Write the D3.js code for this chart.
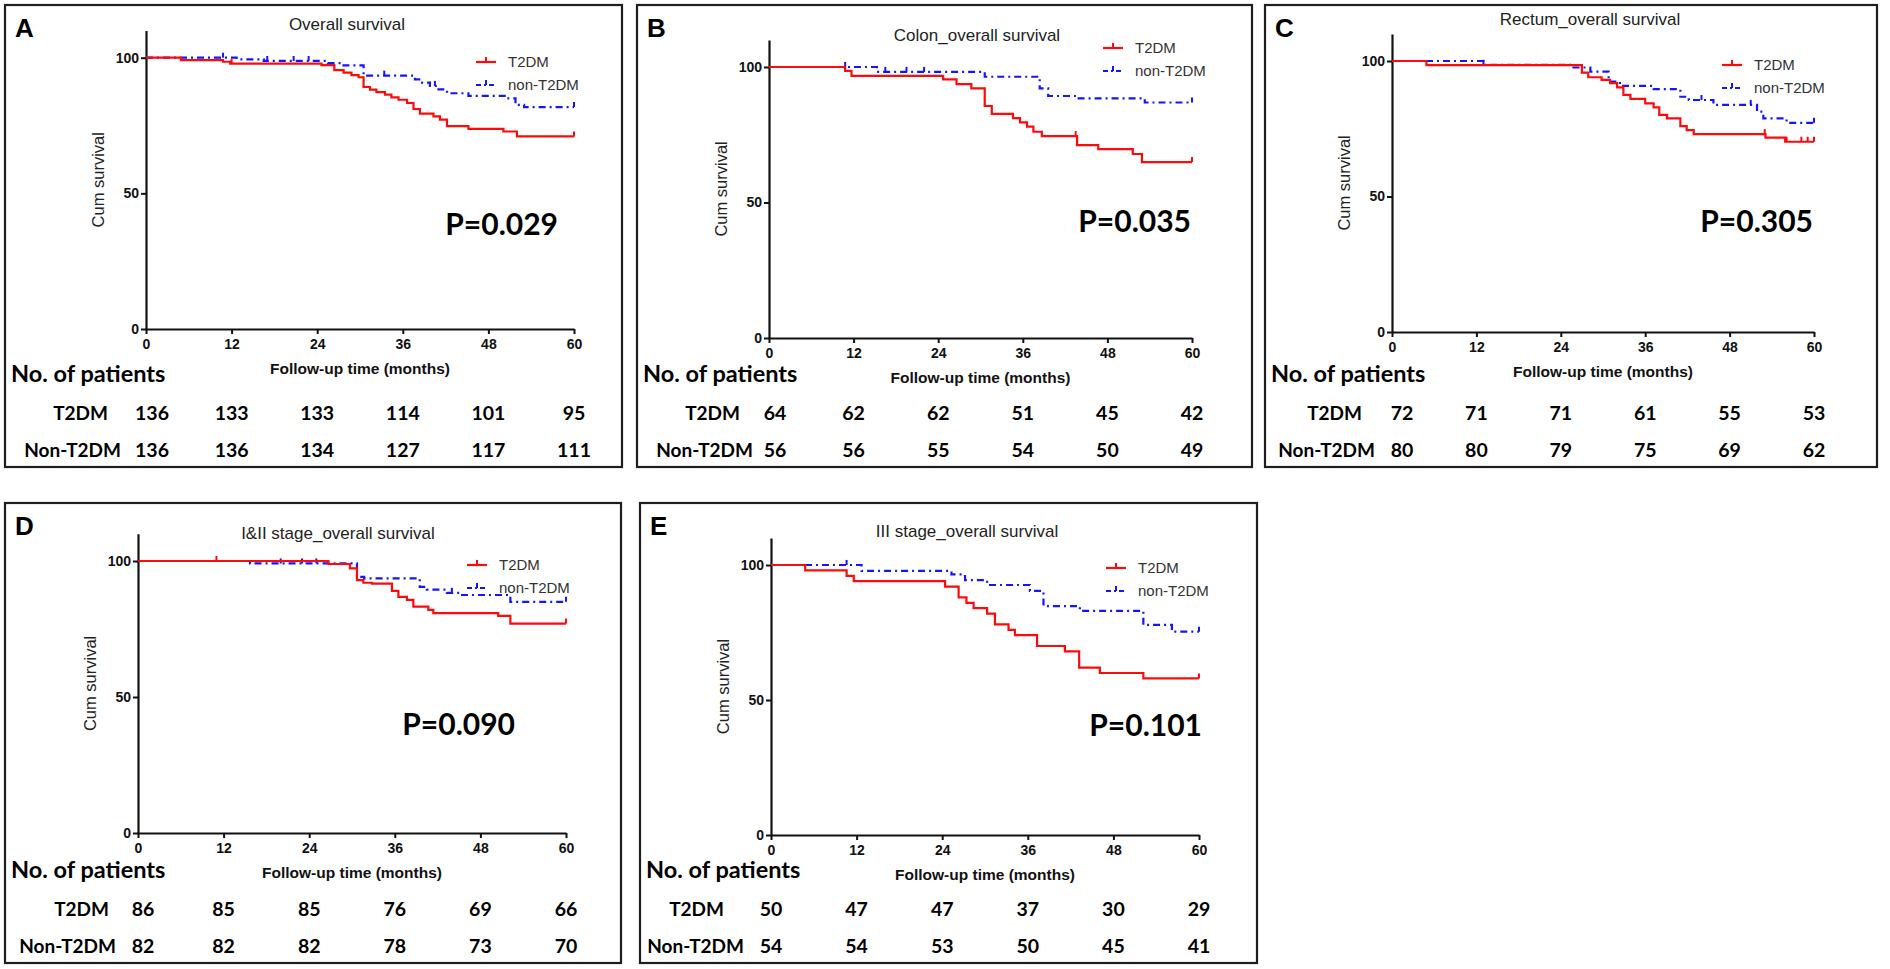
<!DOCTYPE html>
<html>
<head>
<meta charset="utf-8">
<script src="https://cdn.jsdelivr.net/npm/d3@7"></script>
<style>
  body { margin: 0; background: #fff; }
  svg { display: block; }
</style>
</head>
<body>
<div id="wrapper"></div>
<script>
// ---- data ----
const months = [0, 12, 24, 36, 48, 60]
const yTicks = [0, 50, 100]
const panelIds = ["A", "B", "C", "D", "E"]
const titles = [
  "Overall survival",
  "Colon_overall survival",
  "Rectum_overall survival",
  "I&II stage_overall survival",
  "III stage_overall survival",
]
const pValues = ["0.029", "0.035", "0.305", "0.090", "0.101"]
const groupNames = ["T2DM", "non-T2DM"]
const rowNames = ["T2DM", "Non-T2DM"]

// patients at risk at 0,12,24,36,48,60 months
const riskT2dm = [
  [136, 133, 133, 114, 101, 95],
  [64, 62, 62, 51, 45, 42],
  [72, 71, 71, 61, 55, 53],
  [86, 85, 85, 76, 69, 66],
  [50, 47, 47, 37, 30, 29],
]
const riskNon = [
  [136, 136, 134, 127, 117, 111],
  [56, 56, 55, 54, 50, 49],
  [80, 80, 79, 75, 69, 62],
  [82, 82, 82, 78, 73, 70],
  [54, 54, 53, 50, 45, 41],
]

// Kaplan-Meier steps: [month, cum survival %]
const t2dmA = [[0, 100], [4.9, 99.1], [10.8, 98.5], [11.8, 97.8], [24.6, 97.3], [26.4, 95.4], [27.7, 94.5], [28.8, 93.6], [29.8, 92.8], [30.5, 89.2], [31.4, 88.2], [32.3, 87.3], [33.5, 86.4], [34.4, 85.4], [35.4, 84.5], [36.6, 83.3], [37.5, 81.1], [38.4, 79.4], [40.3, 78.4], [41.2, 77.2], [42.2, 74.8], [45.2, 73.8], [50.1, 72.8], [52, 71]]
const nonA = [[0, 100], [12.7, 99.4], [16.5, 98.8], [25.5, 98], [27.4, 97.2], [30.5, 93.4], [37.7, 92], [38.7, 90.8], [39.8, 89.6], [41, 88.3], [42.2, 86.9], [45.2, 85.9], [50.6, 85], [51.8, 82.6], [53, 81.8]]
const t2dmB = [[0, 100], [10.8, 98.6], [11.7, 96.7], [24.7, 95.4], [26.6, 93.7], [28.7, 92.1], [30.6, 85.6], [31.6, 82.7], [34.6, 81.1], [35.6, 79.6], [36.6, 78], [37.5, 76.1], [38.7, 74.5], [43.7, 71.2], [46.7, 69.7], [51.6, 67.9], [52.9, 64.9]]
const nonB = [[0, 100], [15.3, 98.2], [30.6, 96.4], [38.4, 92.1], [39.6, 89.3], [43.7, 88.4], [53.3, 86.9]]
const t2dmC = [[0, 100], [4.9, 98.5], [27, 95.7], [27.9, 94], [29.8, 93], [31, 91.8], [32, 90.3], [32.9, 87.5], [33.9, 86], [36, 84.4], [37.2, 82.9], [38, 80.1], [39.1, 78.8], [41, 76], [41.9, 74.5], [42.9, 73], [53.1, 71.7], [55.9, 70.2]]
const nonC = [[0, 100], [13, 98.6], [25.8, 97.6], [28.2, 96.1], [30.8, 92.4], [32.4, 90.8], [37.2, 89.6], [41, 86.8], [42.2, 85.6], [45.7, 83.8], [51.9, 81.3], [52.8, 78.8], [56.1, 77.2]]
const t2dmD = [[0, 100], [26.7, 98.9], [29.7, 97.3], [30.7, 93], [31.6, 92], [32.8, 91.7], [35.6, 89], [36.5, 86.8], [37.7, 85.7], [38.6, 83.2], [40.7, 82], [41.4, 80.8], [50.5, 79.8], [52.2, 77]]
const nonD = [[0, 100], [15.7, 99.1], [30.7, 94.2], [31.7, 93.6], [39.5, 90.5], [40.5, 89.5], [43.3, 88.3], [45.2, 87.5], [52.2, 85]]
const t2dmE = [[0, 100], [4.8, 98], [10.6, 96], [11.6, 94], [24.4, 92], [26.3, 88], [27.4, 86], [28.4, 84], [30.3, 82], [31.4, 78], [33.3, 76], [34.2, 74], [37.3, 70], [41.2, 68], [43.2, 62], [46.1, 60], [52.2, 58]]
const nonE = [[0, 100], [12.7, 97.8], [25.3, 96.5], [27.2, 94.4], [30.3, 92.6], [36.3, 90.4], [38.2, 84.8], [43.3, 83], [52.2, 77.8], [56.2, 75.3]]

// censoring marks (months)
const censorT2dm = [[12, 60], [43.5, 60], [53, 56.1, 58.2, 59.1, 60], [11, 60], [60]]
const censorNon = [[10.8, 17, 20.7, 22.8, 33.4, 40.5, 60], [10.8, 16.5, 19.5, 22, 60], [13, 44, 51, 60], [20, 23, 25, 44, 60], [10.6, 60]]

const t2dmSeries = [t2dmA, t2dmB, t2dmC, t2dmD, t2dmE]
const nonSeries = [nonA, nonB, nonC, nonD, nonE]

// ---- layout (pixels) ----
const layout = [
  { box: [5, 5, 617, 462], x0: 146, w: 428, y0: 329, k: 2.713, titleDx: 201, titleY: 30, legX: 476, legY: 62, pX: 558, pY: 235, lab1: 108, lab2: 121, firstDx: 6 },
  { box: [637, 5, 615, 462], x0: 769, w: 423, y0: 338, k: 2.71, titleDx: 208, titleY: 41, legX: 1103, legY: 48, pX: 1191, pY: 232, lab1: 740, lab2: 753, firstDx: 6 },
  { box: [1265, 5, 612, 462], x0: 1392, w: 422, y0: 332, k: 2.71, titleDx: 198, titleY: 25, legX: 1722, legY: 65, pX: 1813, pY: 232, lab1: 1362, lab2: 1375, firstDx: 10 },
  { box: [5, 503, 616, 460], x0: 138, w: 428, y0: 833, k: 2.72, titleDx: 200, titleY: 539, legX: 467, legY: 565, pX: 515, pY: 735, lab1: 109, lab2: 116, firstDx: 5 },
  { box: [640, 503, 617, 460], x0: 771, w: 428, y0: 835, k: 2.7, titleDx: 196, titleY: 537, legX: 1106, legY: 568, pX: 1202, pY: 736, lab1: 724, lab2: 744, firstDx: 0 },
]

const RED = "#ff0a0a"
const BLUE = "#1414ff"
const BLUE_DASH = "7,4,2,4"
const ARIAL = "'Liberation Sans', Arial, sans-serif"
const CALIBRI = "Lato, 'Open Sans', sans-serif"

const wrapper = d3.select("#wrapper")
  .append("svg")
  .attr("width", 1890)
  .attr("height", 969)

wrapper.append("rect").attr("width", 1890).attr("height", 969).attr("fill", "#fff")

function survAt(series, t) {
  let s = 100
  series.forEach(d => { if (d[0] <= t) s = d[1] })
  return s
}

panelIds.forEach((id, i) => {
  const L = layout[i]
  const [bx, by, bw, bh] = L.box
  const g = wrapper.append("g").attr("class", "panel")

  // frame
  g.append("rect")
    .attr("x", bx).attr("y", by)
    .attr("width", bw).attr("height", bh)
    .attr("fill", "none")
    .attr("stroke", "#1e1e1e")
    .attr("stroke-width", 2.2)

  g.append("text")
    .text(id)
    .attr("x", bx + 10).attr("y", by + 32)
    .style("font-family", ARIAL).style("font-weight", "bold")
    .style("font-size", "26px").attr("fill", "#000")

  const xScale = d3.scaleLinear().domain([0, 60]).range([L.x0, L.x0 + L.w])
  const yScale = d3.scaleLinear().domain([0, 110]).range([L.y0, L.y0 - 110 * L.k])

  // title
  g.append("text")
    .text(titles[i])
    .attr("x", L.x0 + L.titleDx).attr("y", L.titleY)
    .attr("text-anchor", "middle")
    .style("font-family", ARIAL).style("font-size", "17px")
    .attr("fill", "#222")

  // axes
  const xAxis = g.append("g")
    .attr("transform", `translate(0,${L.y0})`)
    .call(d3.axisBottom(xScale).tickValues(months).tickSize(5).tickSizeOuter(0).tickPadding(5))
  const yAxis = g.append("g")
    .attr("transform", `translate(${L.x0},0)`)
    .call(d3.axisLeft(yScale).tickValues(yTicks).tickSize(5).tickSizeOuter(0).tickPadding(2))
  ;[xAxis, yAxis].forEach(ax => {
    ax.select(".domain").attr("stroke", "#111").attr("stroke-width", 2.2)
    ax.selectAll(".tick line").attr("stroke", "#111").attr("stroke-width", 2)
    ax.selectAll(".tick text")
      .style("font-family", ARIAL).style("font-weight", "bold")
      .style("font-size", "14px").attr("fill", "#111")
  })

  g.append("text")
    .text("Follow-up time (months)")
    .attr("x", L.x0 + L.w / 2).attr("y", L.y0 + 45)
    .attr("text-anchor", "middle")
    .style("font-family", ARIAL).style("font-weight", "bold")
    .style("font-size", "15.5px").attr("fill", "#111")

  g.append("text")
    .text("Cum survival")
    .attr("transform", `translate(${L.x0 - 48},${yScale(55)}) rotate(-90)`)
    .attr("text-anchor", "middle")
    .attr("dy", "0.35em")
    .style("font-family", ARIAL).style("font-size", "16.5px")
    .attr("fill", "#222")

  // curves
  const lineGen = d3.line()
    .x(d => xScale(d[0]))
    .y(d => yScale(d[1]))
    .curve(d3.curveStepAfter)

  const groups = [
    { series: t2dmSeries[i], censor: censorT2dm[i], color: RED, dash: null },
    { series: nonSeries[i], censor: censorNon[i], color: BLUE, dash: BLUE_DASH },
  ]
  // draw blue first so red sits on top like the original
  groups.slice().reverse().forEach(grp => {
    const pts = grp.series.concat([[60, grp.series[grp.series.length - 1][1]]])
    g.append("path")
      .datum(pts)
      .attr("d", lineGen)
      .attr("fill", "none")
      .attr("stroke", grp.color)
      .attr("stroke-width", 2.2)
      .attr("stroke-dasharray", grp.dash)
    g.selectAll(null)
      .data(grp.censor)
      .enter()
      .append("line")
      .attr("x1", d => xScale(d)).attr("x2", d => xScale(d))
      .attr("y1", d => yScale(survAt(grp.series, d)))
      .attr("y2", d => yScale(survAt(grp.series, d)) - 5)
      .attr("stroke", grp.color)
      .attr("stroke-width", 2)
  })

  // legend
  groups.forEach((grp, j) => {
    const ly = L.legY + j * 23
    g.append("line")
      .attr("x1", L.legX).attr("x2", L.legX + 20)
      .attr("y1", ly).attr("y2", ly)
      .attr("stroke", grp.color).attr("stroke-width", 2.2)
      .attr("stroke-dasharray", grp.dash ? "5,3,2,3" : null)
    g.append("line")
      .attr("x1", L.legX + 10).attr("x2", L.legX + 10)
      .attr("y1", ly).attr("y2", ly - 5)
      .attr("stroke", grp.color).attr("stroke-width", 2)
    g.append("text")
      .text(groupNames[j])
      .attr("x", L.legX + 32).attr("y", ly)
      .attr("dy", "0.36em")
      .style("font-family", ARIAL).style("font-size", "15px")
      .attr("fill", "#333")
  })

  // p value
  g.append("text")
    .text("P=" + pValues[i])
    .attr("x", L.pX).attr("y", L.pY)
    .attr("text-anchor", "end")
    .style("font-family", CALIBRI).style("font-weight", "bold")
    .style("font-size", "30px").attr("fill", "#000")

  // numbers at risk
  const bottom = by + bh
  g.append("text")
    .text("No. of patients")
    .attr("x", bx + 6).attr("y", bottom - 85)
    .style("font-family", CALIBRI).style("font-weight", "bold")
    .style("font-size", "23.5px").attr("fill", "#000")

  const rows = [
    { name: rowNames[0], values: riskT2dm[i], y: bottom - 47, labX: L.lab1 },
    { name: rowNames[1], values: riskNon[i], y: bottom - 10, labX: L.lab2 },
  ]
  rows.forEach(row => {
    g.append("text")
      .text(row.name)
      .attr("x", row.labX).attr("y", row.y)
      .attr("text-anchor", "end")
      .style("font-family", CALIBRI).style("font-weight", "bold")
      .style("font-size", "19px").attr("fill", "#000")
    g.selectAll(null)
      .data(row.values)
      .enter()
      .append("text")
      .text(d => d)
      .attr("x", (d, j) => xScale(months[j]) + (j === 0 ? L.firstDx : 0))
      .attr("y", row.y)
      .attr("text-anchor", "middle")
      .style("font-family", CALIBRI).style("font-weight", "bold")
      .style("font-size", "19.5px").attr("fill", "#000")
  })
})
</script>
</body>
</html>
